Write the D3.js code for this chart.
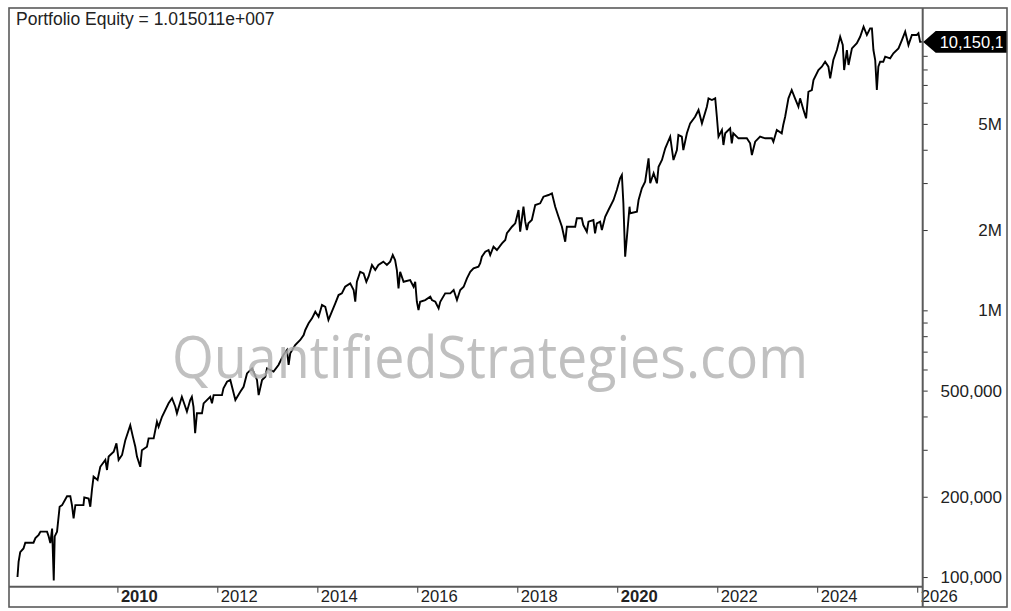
<!DOCTYPE html>
<html>
<head>
<meta charset="utf-8">
<script src="https://cdn.jsdelivr.net/npm/d3@7/dist/d3.min.js"></script>
<style>
  html, body { margin: 0; padding: 0; background: #fff; }
  svg { display: block; }
</style>
</head>
<body>
<svg id="chart" width="1011" height="611"></svg>
<script>
// ---------------- DATA ----------------
const dates = [
"2008-01-02","2008-01-10","2008-01-22","2008-02-15","2008-02-28","2008-04-28","2008-05-12","2008-06-05","2008-06-18","2008-08-05",
"2008-08-17","2008-08-29","2008-09-11","2008-09-23","2008-09-30","2008-10-17","2008-11-05","2008-11-23","2008-12-29","2009-01-22",
"2009-02-03","2009-02-15","2009-02-28","2009-04-28","2009-05-04","2009-06-05","2009-06-17","2009-06-29","2009-07-11","2009-08-09",
"2009-08-29","2009-10-05","2009-10-17","2009-10-29","2009-12-05","2009-12-25","2010-01-10","2010-02-04","2010-02-28","2010-04-05",
"2010-04-24","2010-05-12","2010-05-24","2010-06-17","2010-06-29","2010-08-05","2010-08-17","2010-09-23","2010-10-17","2010-10-29",
"2010-11-23","2011-01-10","2011-02-04","2011-02-28","2011-03-12","2011-04-17","2011-05-12","2011-05-24","2011-06-17","2011-06-29",
"2011-07-11","2011-07-23","2011-08-05","2011-09-11","2011-09-23","2011-11-10","2011-11-23","2011-12-05","2012-02-04","2012-02-15",
"2012-03-12","2012-04-05","2012-05-12","2012-06-17","2012-07-11","2012-08-05","2012-09-11","2012-10-17","2012-10-29","2012-11-23",
"2012-12-17","2012-12-29","2013-02-15","2013-03-23","2013-04-28","2013-05-24","2013-06-05","2013-06-17","2013-07-23","2013-08-29",
"2013-09-23","2013-10-05","2013-10-29","2013-11-23","2013-12-17","2014-01-10","2014-02-04","2014-02-28","2014-03-23","2014-04-17",
"2014-05-12","2014-06-05","2014-06-29","2014-07-23","2014-08-29","2014-09-23","2014-10-05","2014-10-17","2014-11-10","2014-12-05",
"2014-12-25","2015-01-10","2015-02-04","2015-02-28","2015-03-23","2015-04-28","2015-05-24","2015-06-17","2015-07-06","2015-07-23",
"2015-08-05","2015-08-17","2015-08-29","2015-09-23","2015-11-10","2015-12-05","2015-12-17","2015-12-29","2016-01-10","2016-01-22",
"2016-02-28","2016-04-05","2016-04-17","2016-05-12","2016-06-05","2016-06-17","2016-07-23","2016-08-29","2016-09-23","2016-10-17",
"2016-11-10","2016-12-05","2016-12-29","2017-01-22","2017-02-15","2017-03-23","2017-04-05","2017-04-17","2017-05-12","2017-06-05",
"2017-06-17","2017-07-11","2017-08-05","2017-09-11","2017-10-05","2017-10-17","2017-11-23","2017-12-17","2017-12-29","2018-01-10",
"2018-01-22","2018-02-15","2018-02-28","2018-03-12","2018-03-23","2018-04-17","2018-05-12","2018-06-17","2018-07-11","2018-08-17",
"2018-09-11","2018-10-05","2018-10-29","2018-11-23","2018-12-17","2018-12-29","2019-02-28","2019-03-12","2019-04-17","2019-04-28",
"2019-05-24","2019-06-05","2019-07-11","2019-07-23","2019-08-05","2019-08-29","2019-09-11","2019-10-05","2019-10-29","2019-12-05",
"2019-12-29","2020-01-22","2020-02-04","2020-02-15","2020-02-28","2020-03-12","2020-03-31","2020-04-05","2020-05-24","2020-06-05",
"2020-06-29","2020-07-23","2020-08-17","2020-08-29","2020-09-23","2020-10-17","2020-10-29","2020-11-23","2020-12-17","2021-01-22",
"2021-02-15","2021-03-12","2021-03-23","2021-04-17","2021-04-28","2021-05-24","2021-06-17","2021-07-23","2021-08-17","2021-09-11",
"2021-10-17","2021-10-29","2021-11-23","2021-12-17","2021-12-29","2022-01-10","2022-02-04","2022-02-15","2022-02-28","2022-04-05",
"2022-04-17","2022-04-28","2022-06-05","2022-08-05","2022-08-29","2022-09-11","2022-10-05","2022-11-10","2022-12-17","2023-02-04",
"2023-02-15","2023-03-12","2023-04-17","2023-04-28","2023-05-12","2023-06-05","2023-06-29","2023-07-23","2023-08-17","2023-08-29",
"2023-09-23","2023-10-12","2023-10-29","2023-11-23","2023-12-05","2024-01-10","2024-02-04","2024-02-28","2024-03-23","2024-04-05",
"2024-04-28","2024-05-24","2024-06-17","2024-07-06","2024-07-16","2024-08-05","2024-08-17","2024-09-11","2024-10-17","2024-11-10",
"2024-12-05","2024-12-29","2025-01-22","2025-02-04","2025-02-15","2025-02-28","2025-03-12","2025-03-23","2025-04-05","2025-04-28",
"2025-05-12","2025-06-17","2025-07-11","2025-08-17","2025-09-11","2025-10-05","2025-10-29","2025-11-23","2025-12-29","2026-01-10",
"2026-01-22","2026-02-03"
];

// Portfolio equity, in thousands of dollars
const equityThousands = [
100,114,124,128,134.5,134.5,140,144,148,148,
142,134,152,97,142,148,183.5,186,201,201,
186,166,186,186,199,197,183.5,212,238,231,
259,275,252,283,295,317,275,287,326,371,
336,308,283,259,299,308,331,331,382,366,
399,448,468,435,411,474,435,417,461,474,
435,346,411,411,448,474,448,481,481,510,
540,548,461,495,517,580,606,548,481,548,
564,606,589,624,680,710,624,690,741,774,
808,844,894,933,988,946,1047,1031,920,988,
1062,1141,1158,1226,1262,1192,1077,1280,1395,1376,
1280,1337,1479,1416,1479,1522,1479,1522,1612,1544,
1416,1209,1395,1280,1299,1226,1280,1077,1003,1077,
1093,1125,1093,1077,1017,1077,1158,1158,1192,1093,
1192,1226,1318,1395,1437,1457,1501,1589,1659,1683,
1612,1732,1683,1783,1835,1945,2058,2120,2244,2377,
1971,2446,2149,2000,2120,2181,2482,2519,2667,2706,
2746,2446,2244,2058,1808,2058,2058,2213,2213,2088,
1971,2149,2181,1945,2120,2149,2000,2244,2377,2592,
2826,3126,3216,2519,1589,1888,2446,2311,2343,2592,
2867,3035,3715,2994,3265,2994,3455,3661,4050,4477,
3661,3990,4542,4477,3990,4610,5025,5319,5636,5025,
5800,6236,6144,6236,5319,4477,4743,4167,4610,4813,
4229,4610,4415,4415,4229,3822,4288,4477,4415,4415,
4288,4743,4610,4952,5319,6236,6699,6236,5800,6236,
5636,5248,6600,6699,7303,7962,8192,8553,8192,7411,
8680,9462,10610,9880,7962,9462,8314,9600,10030,10610,
11570,10770,11410,11410,9462,8680,6699,8192,8553,8553,
8931,8808,9196,9600,10310,11080,9880,10770,10770,10930,
10150,10150.11
];

const xTickYears = [2010, 2012, 2014, 2016, 2018, 2020, 2022, 2024, 2026];
const boldYears = [2010, 2020];
const yTickValues = [100000, 200000, 300000, 400000, 500000, 600000, 700000, 800000, 900000,
                     1000000, 2000000, 3000000, 4000000, 5000000, 6000000, 7000000, 8000000, 9000000];
const yTickLabels = {100000: "100,000", 200000: "200,000", 500000: "500,000",
                     1000000: "1M", 2000000: "2M", 5000000: "5M"};
const titleLabel = "Portfolio Equity";
const watermarkText = "QuantifiedStrategies.com";

// ---------------- LAYOUT ----------------
const W = 1011, H = 611;
const frame = {left: 9, top: 8, right: 1007, bottom: 607};
const plot = {left: 9, top: 8, right: 922.7, bottom: 586.7};
const axisColor = "#5a5a5a";
const textColor = "#222";
const font = "'Liberation Sans', Arial, Helvetica, sans-serif";

const parse = d3.timeParse("%Y-%m-%d");
const data = dates.map((d, i) => ({date: parse(d), value: equityThousands[i] * 1000}));

const svg = d3.select("#chart");

const x = d3.scaleTime()
  .domain([parse("2007-11-01"), parse("2026-02-10")])
  .range([plot.left, plot.right]);

const y = d3.scaleLog()
  .domain([92000, 13600000])
  .range([plot.bottom, plot.top]);

svg.append("rect").attr("width", W).attr("height", H).attr("fill", "#fff");

const defs = svg.append("defs");
defs.append("clipPath").attr("id", "plotClip")
  .append("rect")
  .attr("x", plot.left).attr("y", plot.top)
  .attr("width", plot.right - plot.left).attr("height", plot.bottom - plot.top);
defs.append("clipPath").attr("id", "frameClip")
  .append("rect")
  .attr("x", frame.left).attr("y", frame.top)
  .attr("width", frame.right - frame.left - 0.5).attr("height", frame.bottom - frame.top);
const tagTextClipRect = defs.append("clipPath").attr("id", "tagTextClip")
  .append("rect")
  .attr("x", plot.right).attr("y", frame.top)
  .attr("width", 1003 - plot.right).attr("height", 60);

// ---------------- LINE ----------------
const line = d3.line()
  .x(d => x(d.date))
  .y(d => y(d.value));

svg.append("path")
  .datum(data)
  .attr("clip-path", "url(#plotClip)")
  .attr("fill", "none")
  .attr("stroke", "#000")
  .attr("stroke-width", 1.9)
  .attr("stroke-linejoin", "miter")
  .attr("d", line);

// ---------------- WATERMARK ----------------
svg.append("text")
  .attr("x", 490)
  .attr("y", 378)
  .attr("text-anchor", "middle")
  .attr("font-family", "'Open Sans', 'Noto Sans', sans-serif")
  .attr("font-size", 58)
  .attr("textLength", 636)
  .attr("lengthAdjust", "spacingAndGlyphs")
  .attr("fill", "#b2b2b2")
  .attr("fill-opacity", 0.82)
  .text(watermarkText);

// ---------------- AXES ----------------
// X axis
const xAxis = d3.axisBottom(x)
  .tickValues(xTickYears.map(yr => new Date(yr, 0, 1)))
  .tickSize(6)
  .tickFormat(d3.timeFormat("%Y"));

const gx = svg.append("g")
  .attr("transform", `translate(0,${plot.bottom})`)
  .call(xAxis);
gx.select(".domain").remove();
gx.selectAll(".tick line").attr("stroke", "#333").attr("stroke-width", 1);
gx.selectAll(".tick text")
  .attr("text-anchor", "start")
  .attr("x", 3)
  .attr("y", 4)
  .attr("dy", "0.71em")
  .attr("fill", textColor)
  .attr("font-family", font)
  .attr("font-size", 16.6)
  .attr("font-weight", d => boldYears.includes(d.getFullYear()) ? "bold" : "normal");

// Y axis (right)
const yAxis = d3.axisRight(y)
  .tickValues(yTickValues)
  .tickSize(5)
  .tickFormat(d => yTickLabels[d] || "");

const gy = svg.append("g")
  .attr("transform", `translate(${plot.right},0)`)
  .call(yAxis);
gy.select(".domain").remove();
gy.selectAll(".tick line").attr("stroke", "#333").attr("stroke-width", 1);
gy.selectAll(".tick text")
  .attr("text-anchor", "end")
  .attr("x", frame.right - 5 - plot.right)
  .attr("fill", textColor)
  .attr("font-family", font)
  .attr("font-size", 17);

// ---------------- FRAME ----------------
svg.append("rect")
  .attr("x", frame.left).attr("y", frame.top)
  .attr("width", frame.right - frame.left).attr("height", frame.bottom - frame.top)
  .attr("fill", "none").attr("stroke", axisColor).attr("stroke-width", 1.6);
svg.append("line")
  .attr("x1", frame.left).attr("x2", plot.right)
  .attr("y1", plot.bottom).attr("y2", plot.bottom)
  .attr("stroke", axisColor).attr("stroke-width", 2);
svg.append("line")
  .attr("x1", plot.right).attr("x2", plot.right)
  .attr("y1", frame.top).attr("y2", frame.bottom)
  .attr("stroke", axisColor).attr("stroke-width", 2);

// ---------------- LAST VALUE TAG ----------------
const last = data[data.length - 1];
const ty = y(last.value);
const tag = svg.append("g").attr("clip-path", "url(#frameClip)");
tag.append("path")
  .attr("d", `M${plot.right + 0.5},${ty} L${plot.right + 13},${ty - 10.8} L${frame.right + 5},${ty - 10.8} L${frame.right + 5},${ty + 10.8} L${plot.right + 13},${ty + 10.8} Z`)
  .attr("fill", "#000");
const tagX = plot.right + 17;
const tagText = svg.append("text")
  .attr("clip-path", "url(#tagTextClip)")
  .attr("x", tagX)
  .attr("y", ty)
  .attr("dy", "0.36em")
  .attr("fill", "#fff")
  .attr("font-family", font)
  .attr("font-size", 16.5)
  .text(d3.format(",")(Math.round(last.value)));
// clip on whole glyphs, as the source application does
(function () {
  const node = tagText.node();
  const s = node.textContent;
  let endX = tagX;
  for (let n = 1; n <= s.length; n++) {
    const w = node.getSubStringLength(0, n);
    if (tagX + w <= 1004.5) endX = tagX + w; else break;
  }
  tagTextClipRect.attr("width", endX - plot.right);
})();

// ---------------- TITLE ----------------
function sciLabel(v) {
  const [m, e] = v.toExponential(6).split("e");
  const sign = e[0] === "-" ? "-" : "+";
  const digits = e.replace(/[+-]/, "").padStart(3, "0");
  return `${m}e${sign}${digits}`;
}
svg.append("text")
  .attr("x", 16)
  .attr("y", 25)
  .attr("fill", textColor)
  .attr("font-family", font)
  .attr("font-size", 17.5)
  .text(`${titleLabel} = ${sciLabel(last.value)}`);
</script>
</body>
</html>
